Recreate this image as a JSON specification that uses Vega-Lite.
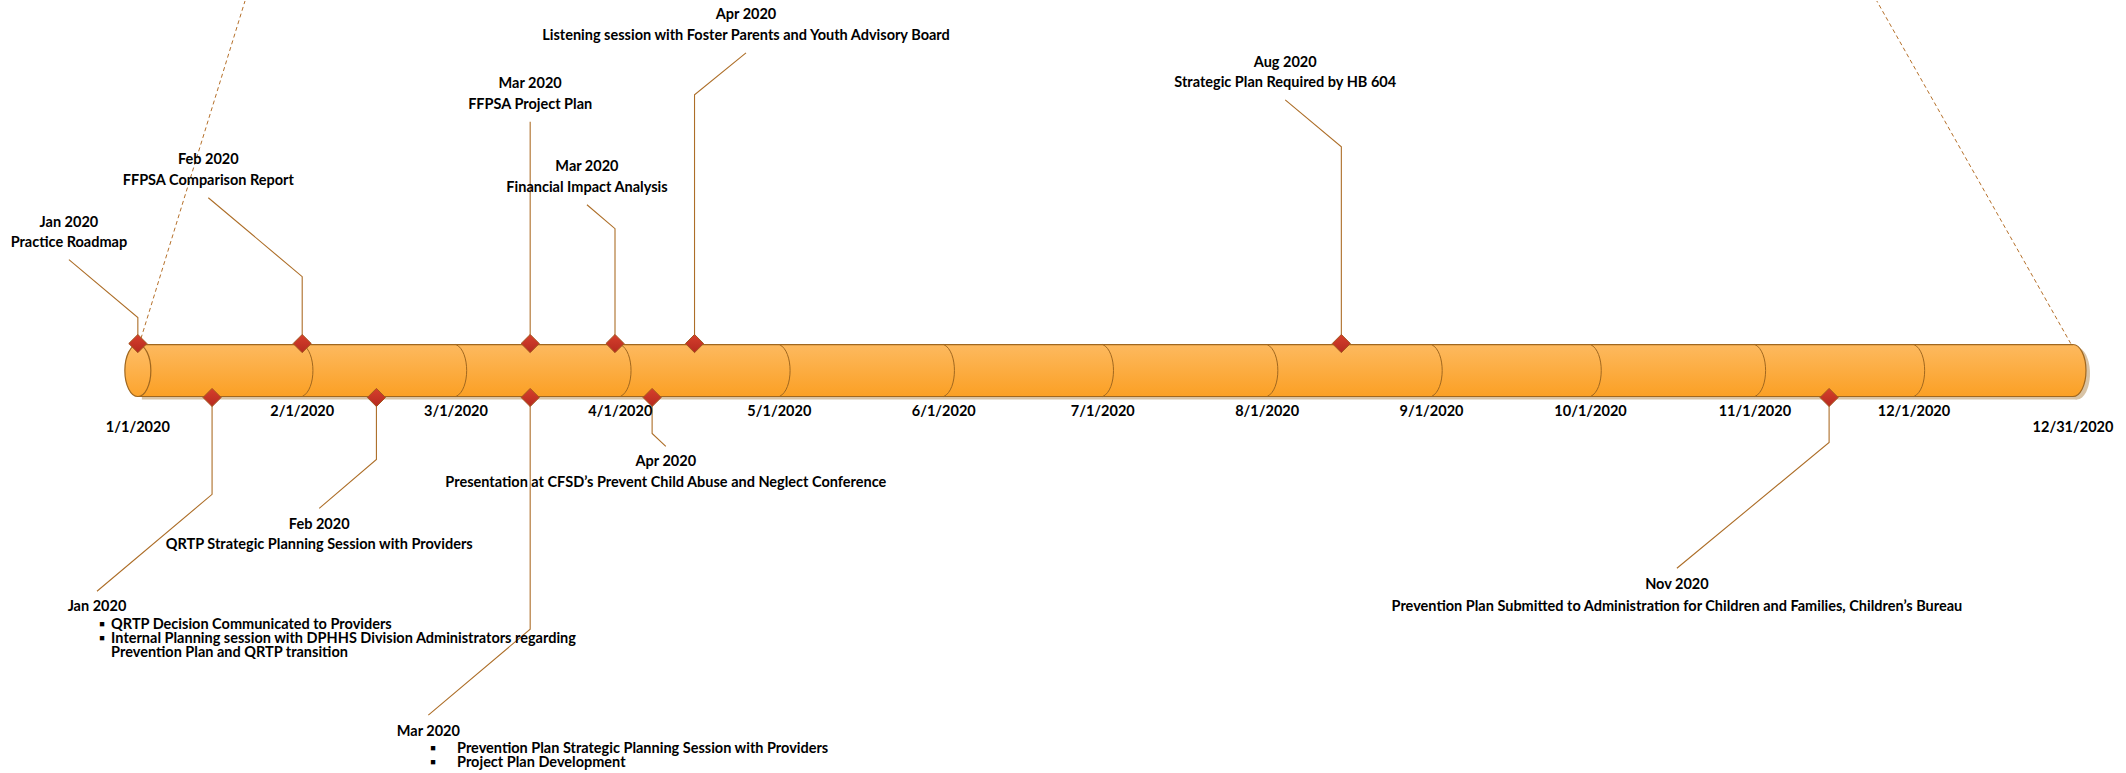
{
  "$schema": "https://vega.github.io/schema/vega-lite/v6.json",
  "width": 2126,
  "height": 773,
  "padding": 0,
  "autosize": {"type": "fit", "contains": "padding"},
  "background": "#ffffff",
  "config": {"view": {"stroke": null}, "text": {"font": "Lato", "fontWeight": "bold", "fontSize": 14.5, "color": "#000000"}},
  "datasets": {
    "cyl": [{"start": "2020-01-01", "end": "2020-12-31", "top": 26, "bottom": -26}],
    "caps": [{"date": "2020-01-01", "lvl": 0, "side": "left"}, {"date": "2020-12-31", "lvl": 0, "side": "right"}],
    "months": [
      {"date": "2020-02-01", "lvl": 0}, {"date": "2020-03-01", "lvl": 0}, {"date": "2020-04-01", "lvl": 0},
      {"date": "2020-05-01", "lvl": 0}, {"date": "2020-06-01", "lvl": 0}, {"date": "2020-07-01", "lvl": 0},
      {"date": "2020-08-01", "lvl": 0}, {"date": "2020-09-01", "lvl": 0}, {"date": "2020-10-01", "lvl": 0},
      {"date": "2020-11-01", "lvl": 0}, {"date": "2020-12-01", "lvl": 0}
    ],
    "dashes": [
      {"date": "2020-01-01T14:00:00Z", "lvl": 32, "date2": "2020-01-21T05:00:00Z", "lvl2": 370},
      {"date": "2020-12-30T14:00:00Z", "lvl": 27, "date2": "2020-11-24T00:00:00Z", "lvl2": 370}
    ],
    "conn": [
      {"id": "e1", "seq": 1, "date": "2020-01-01", "lvl": 27}, {"id": "e1", "seq": 2, "date": "2020-01-01", "lvl": 53}, {"id": "e1", "seq": 3, "date": "2019-12-19T00:00:00Z", "lvl": 111},
      {"id": "e2", "seq": 1, "date": "2020-02-01", "lvl": 27}, {"id": "e2", "seq": 2, "date": "2020-02-01", "lvl": 94}, {"id": "e2", "seq": 3, "date": "2020-01-14T07:00:00Z", "lvl": 173},
      {"id": "e3", "seq": 1, "date": "2020-03-15", "lvl": 27}, {"id": "e3", "seq": 2, "date": "2020-03-15", "lvl": 249},
      {"id": "e4", "seq": 1, "date": "2020-03-31", "lvl": 27}, {"id": "e4", "seq": 2, "date": "2020-03-31", "lvl": 142}, {"id": "e4", "seq": 3, "date": "2020-03-25T17:00:00Z", "lvl": 166},
      {"id": "e5", "seq": 1, "date": "2020-04-15", "lvl": 27}, {"id": "e5", "seq": 2, "date": "2020-04-15", "lvl": 276}, {"id": "e5", "seq": 3, "date": "2020-04-24T17:00:00Z", "lvl": 318},
      {"id": "e6", "seq": 1, "date": "2020-08-15", "lvl": 27}, {"id": "e6", "seq": 2, "date": "2020-08-15", "lvl": 224}, {"id": "e6", "seq": 3, "date": "2020-08-04T10:00:00Z", "lvl": 271},
      {"id": "e7", "seq": 1, "date": "2020-01-15", "lvl": -27}, {"id": "e7", "seq": 2, "date": "2020-01-15", "lvl": -124}, {"id": "e7", "seq": 3, "date": "2019-12-24T07:00:00Z", "lvl": -221},
      {"id": "e8", "seq": 1, "date": "2020-02-15", "lvl": -27}, {"id": "e8", "seq": 2, "date": "2020-02-15", "lvl": -89}, {"id": "e8", "seq": 3, "date": "2020-02-04T05:00:00Z", "lvl": -138},
      {"id": "e9", "seq": 1, "date": "2020-03-15", "lvl": -27}, {"id": "e9", "seq": 2, "date": "2020-03-15", "lvl": -259}, {"id": "e9", "seq": 3, "date": "2020-02-24T19:00:00Z", "lvl": -345},
      {"id": "e10", "seq": 1, "date": "2020-04-07", "lvl": -27}, {"id": "e10", "seq": 2, "date": "2020-04-07", "lvl": -63}, {"id": "e10", "seq": 3, "date": "2020-04-09T14:00:00Z", "lvl": -76},
      {"id": "e11", "seq": 1, "date": "2020-11-15", "lvl": -27}, {"id": "e11", "seq": 2, "date": "2020-11-15", "lvl": -72}, {"id": "e11", "seq": 3, "date": "2020-10-17T07:00:00Z", "lvl": -198}
    ],
    "diamonds": [
      {"date": "2020-01-01", "lvl": 27}, {"date": "2020-02-01", "lvl": 27}, {"date": "2020-03-15", "lvl": 27},
      {"date": "2020-03-31", "lvl": 27}, {"date": "2020-04-15", "lvl": 27}, {"date": "2020-08-15", "lvl": 27},
      {"date": "2020-01-15", "lvl": -27}, {"date": "2020-02-15", "lvl": -27}, {"date": "2020-03-15", "lvl": -27},
      {"date": "2020-04-07", "lvl": -27}, {"date": "2020-11-15", "lvl": -27}
    ],
    "ticks": [
      {"date": "2020-01-01", "lvl": -58, "label": "1/1/2020"},
      {"date": "2020-02-01", "lvl": -42, "label": "2/1/2020"},
      {"date": "2020-03-01", "lvl": -42, "label": "3/1/2020"},
      {"date": "2020-04-01", "lvl": -42, "label": "4/1/2020"},
      {"date": "2020-05-01", "lvl": -42, "label": "5/1/2020"},
      {"date": "2020-06-01", "lvl": -42, "label": "6/1/2020"},
      {"date": "2020-07-01", "lvl": -42, "label": "7/1/2020"},
      {"date": "2020-08-01", "lvl": -42, "label": "8/1/2020"},
      {"date": "2020-09-01", "lvl": -42, "label": "9/1/2020"},
      {"date": "2020-10-01", "lvl": -42, "label": "10/1/2020"},
      {"date": "2020-11-01", "lvl": -42, "label": "11/1/2020"},
      {"date": "2020-12-01", "lvl": -42, "label": "12/1/2020"},
      {"date": "2020-12-31", "lvl": -58, "label": "12/31/2020"}
    ],
    "labels": [
      {"date": "2019-12-19T00:00:00Z", "lvl": 148, "text": "Jan 2020"},
      {"date": "2019-12-19T00:00:00Z", "lvl": 128, "text": "Practice Roadmap"},
      {"date": "2020-01-14T07:00:00Z", "lvl": 211, "text": "Feb 2020"},
      {"date": "2020-01-14T07:00:00Z", "lvl": 190, "text": "FFPSA Comparison Report"},
      {"date": "2020-03-15", "lvl": 287, "text": "Mar 2020"},
      {"date": "2020-03-15", "lvl": 266, "text": "FFPSA Project Plan"},
      {"date": "2020-03-25T17:00:00Z", "lvl": 204, "text": "Mar 2020"},
      {"date": "2020-03-25T17:00:00Z", "lvl": 183, "text": "Financial Impact Analysis"},
      {"date": "2020-04-24T17:00:00Z", "lvl": 356, "text": "Apr 2020"},
      {"date": "2020-04-24T17:00:00Z", "lvl": 335, "text": "Listening session with Foster Parents and Youth Advisory Board"},
      {"date": "2020-08-04T10:00:00Z", "lvl": 308, "text": "Aug 2020"},
      {"date": "2020-08-04T10:00:00Z", "lvl": 288, "text": "Strategic Plan Required by HB 604"},
      {"date": "2019-12-24T07:00:00Z", "lvl": -237, "text": "Jan 2020"},
      {"date": "2020-02-04T05:00:00Z", "lvl": -155, "text": "Feb 2020"},
      {"date": "2020-02-04T05:00:00Z", "lvl": -175, "text": "QRTP Strategic Planning Session with Providers"},
      {"date": "2020-02-24T19:00:00Z", "lvl": -362, "text": "Mar 2020"},
      {"date": "2020-04-09T14:00:00Z", "lvl": -92, "text": "Apr 2020"},
      {"date": "2020-04-09T14:00:00Z", "lvl": -113, "text": "Presentation at CFSD’s Prevent Child Abuse and Neglect Conference"},
      {"date": "2020-10-17T07:00:00Z", "lvl": -215, "text": "Nov 2020"},
      {"date": "2020-10-17T07:00:00Z", "lvl": -237, "text": "Prevention Plan Submitted to Administration for Children and Families, Children’s Bureau"}
    ],
    "bullets": [
      {"date": "2019-12-24T16:00:00Z", "lvl": -255, "text": "▪"},
      {"date": "2019-12-24T16:00:00Z", "lvl": -269, "text": "▪"},
      {"date": "2019-12-26T23:00:00Z", "lvl": -255, "text": "QRTP Decision Communicated to Providers"},
      {"date": "2019-12-26T23:00:00Z", "lvl": -269, "text": "Internal Planning session with DPHHS Division Administrators regarding"},
      {"date": "2019-12-26T23:00:00Z", "lvl": -283, "text": "Prevention Plan and QRTP transition"},
      {"date": "2020-02-25T02:00:00Z", "lvl": -379, "text": "▪"},
      {"date": "2020-02-25T02:00:00Z", "lvl": -393, "text": "▪"},
      {"date": "2020-03-01T05:00:00Z", "lvl": -379, "text": "Prevention Plan Strategic Planning Session with Providers"},
      {"date": "2020-03-01T05:00:00Z", "lvl": -393, "text": "Project Plan Development"}
    ]
  },
  "encoding": {
    "x": {"field": "date", "type": "temporal", "axis": null,
          "scale": {"type": "utc", "nice": false,
                    "domain": [{"year": 2019, "month": 12, "date": 6, "utc": true}, {"year": 2021, "month": 1, "date": 10, "utc": true}]}},
    "y": {"field": "lvl", "type": "quantitative", "axis": null,
          "scale": {"domain": [-403, 370], "nice": false, "zero": false}}
  },
  "layer": [
    {
      "data": {"name": "dashes"},
      "mark": {"type": "rule", "color": "#B5702A", "strokeWidth": 1, "strokeDash": [4, 3]},
      "encoding": {"x2": {"field": "date2"}, "y2": {"field": "lvl2"}}
    },
    {
      "data": {"name": "cyl"},
      "mark": {"type": "rect", "color": "#D8C3A5", "xOffset": 4, "x2Offset": 4, "yOffset": 3, "y2Offset": 3},
      "encoding": {"x": {"field": "start", "type": "temporal"}, "x2": {"field": "end"}, "y": {"field": "top", "type": "quantitative"}, "y2": {"field": "bottom"}}
    },
    {
      "data": {"name": "caps"},
      "transform": [{"filter": "datum.side === 'right'"}],
      "mark": {"type": "point", "filled": true, "opacity": 1, "color": "#D8C3A5", "size": 2704, "xOffset": 4, "yOffset": 3,
               "shape": "M0,-1 C0.276,-1 0.5,-0.552 0.5,0 C0.5,0.552 0.276,1 0,1 C-0.276,1 -0.5,0.552 -0.5,0 C-0.5,-0.552 -0.276,-1 0,-1 Z"}
    },
    {
      "data": {"name": "caps"},
      "transform": [{"filter": "datum.side === 'right'"}],
      "mark": {"type": "point", "filled": true, "opacity": 1, "size": 2704, "stroke": "#A0671F", "strokeWidth": 1.2,
               "fill": {"gradient": "linear", "x1": 0, "y1": 0, "x2": 0, "y2": 1, "stops": [{"offset": 0, "color": "#FDB95F"}, {"offset": 1, "color": "#FBA024"}]},
               "shape": "M0,-1 C0.276,-1 0.5,-0.552 0.5,0 C0.5,0.552 0.276,1 0,1 C-0.276,1 -0.5,0.552 -0.5,0 C-0.5,-0.552 -0.276,-1 0,-1 Z"}
    },
    {
      "data": {"name": "cyl"},
      "mark": {"type": "rect",
               "color": {"gradient": "linear", "x1": 0, "y1": 0, "x2": 0, "y2": 1, "stops": [{"offset": 0, "color": "#FDB95F"}, {"offset": 1, "color": "#FBA024"}]}},
      "encoding": {"x": {"field": "start", "type": "temporal"}, "x2": {"field": "end"}, "y": {"field": "top", "type": "quantitative"}, "y2": {"field": "bottom"}}
    },
    {
      "data": {"name": "cyl"},
      "mark": {"type": "rule", "color": "#A0671F", "strokeWidth": 1.2},
      "encoding": {"x": {"field": "start", "type": "temporal"}, "x2": {"field": "end"}, "y": {"field": "top", "type": "quantitative"}}
    },
    {
      "data": {"name": "cyl"},
      "mark": {"type": "rule", "color": "#A0671F", "strokeWidth": 1.2},
      "encoding": {"x": {"field": "start", "type": "temporal"}, "x2": {"field": "end"}, "y": {"field": "bottom", "type": "quantitative"}}
    },
    {
      "data": {"name": "months"},
      "mark": {"type": "point", "filled": false, "opacity": 1, "size": 2704, "stroke": "#A0671F", "strokeWidth": 1,
               "shape": "M0,-1 C0.55,-0.75 0.55,0.75 0,1"}
    },
    {
      "data": {"name": "caps"},
      "transform": [{"filter": "datum.side === 'left'"}],
      "mark": {"type": "point", "filled": true, "opacity": 1, "size": 2704, "stroke": "#A0671F", "strokeWidth": 1.2,
               "fill": {"gradient": "linear", "x1": 0, "y1": 0, "x2": 0, "y2": 1, "stops": [{"offset": 0, "color": "#FEBE68"}, {"offset": 1, "color": "#FCA42E"}]},
               "shape": "M0,-1 C0.276,-1 0.5,-0.552 0.5,0 C0.5,0.552 0.276,1 0,1 C-0.276,1 -0.5,0.552 -0.5,0 C-0.5,-0.552 -0.276,-1 0,-1 Z"}
    },
    {
      "data": {"name": "conn"},
      "mark": {"type": "line", "color": "#AD6E28", "strokeWidth": 1.1},
      "encoding": {"detail": {"field": "id"}, "order": {"field": "seq", "type": "quantitative"}}
    },
    {
      "data": {"name": "diamonds"},
      "mark": {"type": "point", "shape": "diamond", "size": 330, "filled": true, "opacity": 1, "stroke": "#A4561E", "strokeWidth": 1,
               "fill": {"gradient": "linear", "x1": 0, "y1": 0, "x2": 0, "y2": 1, "stops": [{"offset": 0, "color": "#D63F2C"}, {"offset": 1, "color": "#B52A1F"}]}}
    },
    {
      "data": {"name": "ticks"},
      "mark": {"type": "text", "align": "center", "baseline": "middle"},
      "encoding": {"text": {"field": "label"}}
    },
    {
      "data": {"name": "labels"},
      "mark": {"type": "text", "align": "center", "baseline": "middle"},
      "encoding": {"text": {"field": "text"}}
    },
    {
      "data": {"name": "bullets"},
      "mark": {"type": "text", "align": "left", "baseline": "middle"},
      "encoding": {"text": {"field": "text"}}
    }
  ]
}
